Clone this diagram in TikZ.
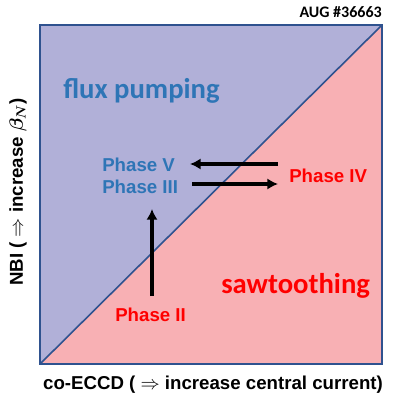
\documentclass[tikz,border=0pt]{standalone}
\usepackage{amsmath,amssymb,bm}
\usepackage{fontspec}
\setmainfont{Liberation Sans}
\newfontfamily\calfont{Carlito}
\usetikzlibrary{arrows.meta}
\definecolor{pumpblue}{HTML}{B1B0D8}
\definecolor{sawpink}{HTML}{F8B0B4}
\definecolor{edgeblue}{HTML}{2F528F}
\definecolor{textblue}{HTML}{2E75B6}
\definecolor{textred}{HTML}{FF0000}
\tikzset{
  phase/.style={anchor=base west, inner sep=0pt, font=\bfseries\fontsize{14}{16}\selectfont},
  region/.style={anchor=base west, inner sep=0pt, font=\calfont\bfseries\fontsize{21.5}{24}\selectfont},
  axislab/.style={inner sep=0pt, font=\bfseries\fontsize{14}{16}\selectfont},
  move/.style={-{Latex[length=8pt,width=8.5pt]}, line width=3pt, black}
}
\begin{document}
\begin{tikzpicture}[x=0.75pt, y=-0.75pt]
    \useasboundingbox (0,0) rectangle (395,398);
    % the two regimes
    \fill[pumpblue] (40,25) -- (382,25) -- (40,364) -- cycle;
    \fill[sawpink] (382,25) -- (382,364) -- (40,364) -- cycle;
    \draw[edgeblue, line width=0.9pt] (40,25) rectangle (382,364);
    \draw[edgeblue, line width=1.2pt] (40,364) -- (382,25);
    \node[anchor=base east, inner sep=0pt, font=\calfont\bfseries\fontsize{12}{14}\selectfont] (shot) at (382,18) {AUG \#36663};
    \node[region, text=textblue] (flux) at (63,99) {flux pumping};
    \node[region, text=textred] (saw) at (221,293) {sawtoothing};
    \node[phase, text=textblue] (five) at (102,172) {Phase V};
    \node[phase, text=textblue] (three) at (102,194) {Phase III};
    \node[phase, text=textred] (four) at (289,183) {Phase IV};
    \node[phase, text=textred] (two) at (115,321) {Phase II};
    % transitions
    \coordinate (fourout) at (278,164);
    \coordinate (fivein) at (190,164);
    \coordinate (threeout) at (192,184);
    \coordinate (fourin) at (278,184);
    \coordinate (twoout) at (152,296);
    \coordinate (threein) at (152,209);
    \draw[move] (fourout) -- (fivein);
    \draw[move] (threeout) -- (fourin);
    \draw[move] (twoout) -- (threein);
    % axes
    \node[axislab, anchor=base] (xlab) at (213,389) {co-ECCD ( $\Rightarrow$ increase central current)};
    \node[axislab, rotate=90] (ylab) at (18,192) {NBI ( $\Rightarrow$ increase $\bm{\beta_N}$)};
\end{tikzpicture}
\end{document}
